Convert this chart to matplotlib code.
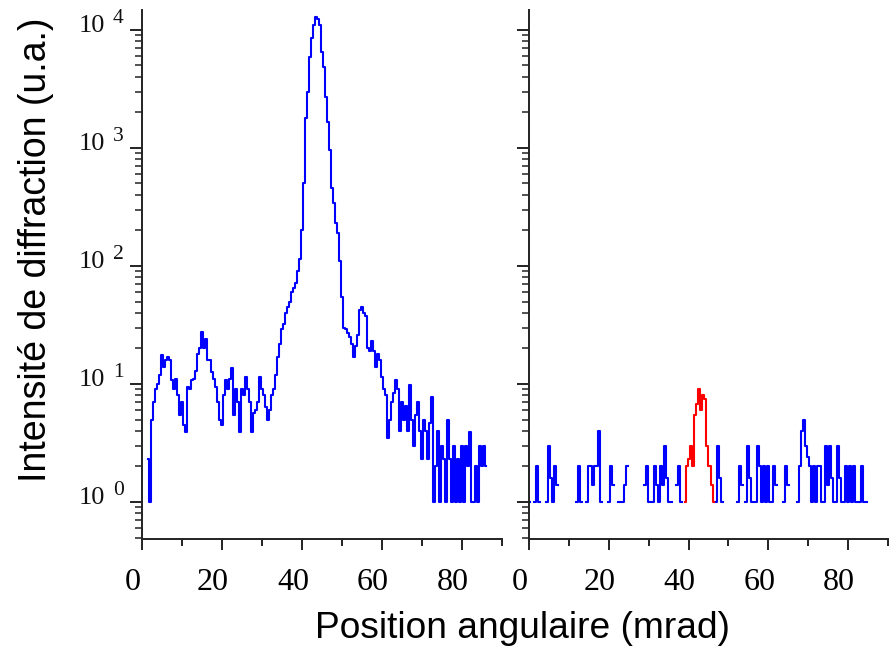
import numpy as np
import matplotlib
matplotlib.use("Agg")
import matplotlib.pyplot as plt
import matplotlib.transforms as mtransforms
from matplotlib.ticker import FixedLocator, LogLocator, NullFormatter, FuncFormatter

# left panel: measured profile, one value every 0.5 mrad starting at 1.5 mrad
left_start = 1.5
left_vals = [
    2.3, 1, 5, 7, 9, 10, 12, 17.6, 14, 16, 17, 16, 10.8, 9, 11, 8, 5.5, 7, 4.5, 3.9,
    9.4, 9, 10.8, 11, 13, 18, 20, 27.6, 20, 24, 16, 16, 12.6, 11, 9.4, 7, 5, 4.5, 8, 10.8,
    9, 11, 13.6, 5.5, 9, 7, 3.9, 9, 8, 11.5, 9, 7, 3.9, 5.7, 6, 7, 11.5, 9, 8, 6.4,
    5, 6, 8, 9, 12, 17, 22, 29, 32, 40, 45, 50, 60, 65, 72, 90, 115, 200, 500, 1800,
    3000, 5900, 8500, 11000, 13000, 12500, 11000, 6500, 4900, 2700, 1660, 960, 460, 340, 230, 190, 110, 55, 30, 29,
    27, 25, 22, 17, 21, 26, 42, 45, 40, 38, 20, 19, 23, 19, 14, 18, 16, 11.5, 9, 8,
    3.5, 5, 7, 8.4, 10.8, 9, 4, 7, 5, 6.5, 4, 9.8, 5, 3, 5.5, 7, 4, 2.3, 5, 4,
    2.3, 4.7, 7.7, 1, 2, 4, 1, 3, 2.3, 1, 5, 2.3, 1, 3, 1, 2.3, 1, 3, 1, 3,
    2, 3.9, 1, 1, 2, 1, 3, 2, 3, 2,
]

# right panel: blue background counts every 0.5 mrad from 0 (0 = nothing recorded)
right_vals = [
    1, 0, 0, 1, 2, 1, 0, 0, 0, 1, 3, 1.6, 1, 2, 1.4, 0, 0, 0, 0, 0,
    0, 0, 0, 0, 1, 2, 1, 0, 0, 1, 2, 2, 1.4, 2, 2, 4, 1, 0, 0, 0,
    1, 2, 1.4, 0, 0, 1, 1, 1, 1.4, 2, 0, 0, 0, 0, 0, 0, 0, 0, 1.4, 2,
    1, 1, 1, 2, 1.4, 1, 2, 1.4, 3, 1.6, 1, 1, 0, 0, 1.4, 2, 1, 0,
    0, 0, 0, 0, 0, 0, 0, 0, 0, 0, 0, 0, 0, 0, 0, 0,
    1, 3, 1.6, 1, 0, 0, 0, 0, 0, 0, 0, 1, 2, 1.4, 0, 1, 3, 1.6, 1, 0,
    1, 3, 2, 1, 2, 1, 2, 1, 1, 2, 1.4, 0, 0, 0, 1, 2, 1.4, 0, 0, 0,
    0, 1, 2, 4, 5, 3, 2.4, 2, 1, 2, 1, 2, 2, 1, 1, 3, 1.4, 3, 1.6, 1,
    1, 3, 1.6, 1, 1, 2, 1, 2, 1, 2, 1, 0, 1, 2, 1, 1, 0,
]

# right panel: red peak, every 0.5 mrad from 39 mrad
red_start = 39.0
red_vals = [1, 2, 2.3, 3, 2, 5.5, 6.8, 9, 6, 8, 7.5, 3, 2, 2, 1.4, 1]

x_major = [0, 20, 40, 60, 80]
x_minor = [10, 30, 50, 70, 90]
y_decades = [1, 10, 100, 1000, 10000]

blue = (0, 0, 1)
red = (1, 0, 0)
axis_col = '#222222'

left_x = left_start + 0.5 * np.arange(len(left_vals))
right_x = 0.5 * np.arange(len(right_vals))
red_x = red_start + 0.5 * np.arange(len(red_vals))
right_y = np.ma.masked_less_equal(np.array(right_vals, dtype=float), 0)

fig = plt.figure(figsize=(8.94, 6.5), dpi=100)
ax1 = fig.add_axes([142 / 894, 111 / 650, 360 / 894, 529 / 650])
ax2 = fig.add_axes([529 / 894, 111 / 650, 359 / 894, 529 / 650])

ax1.plot(left_x, left_vals, color=blue, lw=1.5, drawstyle='steps-mid')
ax2.plot(right_x, right_y, color=blue, lw=1.5, drawstyle='steps-mid')
ax2.plot(red_x, red_vals, color=red, lw=1.5, drawstyle='steps-mid')

shift = mtransforms.ScaledTranslation(-9 / 100, 0, fig.dpi_scale_trans)

for ax in (ax1, ax2):
    ax.set_yscale('log', nonpositive='mask')
    ax.set_ylim(0.486, 14760)
    ax.set_xlim(0, 90)
    for s in ('top', 'right'):
        ax.spines[s].set_visible(False)
    for s in ('left', 'bottom'):
        ax.spines[s].set_linewidth(1.4)
        ax.spines[s].set_color(axis_col)
    ax.xaxis.set_major_locator(FixedLocator(x_major))
    ax.xaxis.set_minor_locator(FixedLocator(x_minor))
    ax.yaxis.set_major_locator(FixedLocator(y_decades))
    ax.yaxis.set_minor_locator(LogLocator(base=10, subs=np.arange(2, 10), numticks=10))
    ax.yaxis.set_major_formatter(NullFormatter())
    ax.yaxis.set_minor_formatter(NullFormatter())
    ax.tick_params(axis='x', which='major', direction='out', length=8, width=1.4, pad=13, color=axis_col)
    ax.tick_params(axis='x', which='minor', direction='out', length=5, width=1.4, color=axis_col)
    ax.tick_params(axis='y', which='major', direction='out', length=8.5, width=1.4, color=axis_col)
    ax.tick_params(axis='y', which='minor', direction='out', length=5, width=1.1, color=axis_col)
    for lab in ax.get_xticklabels():
        lab.set_fontfamily('Liberation Serif')
        lab.set_fontsize(23)
        lab.set_transform(lab.get_transform() + shift)

# "10" with a raised exponent, as on the original axis
for v in y_decades:
    e = int(round(np.log10(v)))
    ax1.annotate("10", xy=(0, v), xycoords=('axes fraction', 'data'), xytext=(-37, -2),
                 textcoords='offset pixels', ha='right', va='baseline',
                 fontsize=19, family='Liberation Serif', color='#111111')
    ax1.annotate(str(e), xy=(0, v), xycoords=('axes fraction', 'data'), xytext=(-29, 7),
                 textcoords='offset pixels', ha='left', va='baseline',
                 fontsize=15.5, family='Liberation Serif', color='#111111')

fig.text(522 / 894, 1 - 628 / 650, "Position angulaire (mrad)", ha='center', va='center',
         fontsize=26.7, family='Liberation Sans')
fig.text(36 / 894, 1 - 250 / 650, "Intensité de diffraction (u.a.)", ha='center', va='center',
         rotation=90, fontsize=27, family='Liberation Sans')

fig.savefig("out.png", dpi=100)
